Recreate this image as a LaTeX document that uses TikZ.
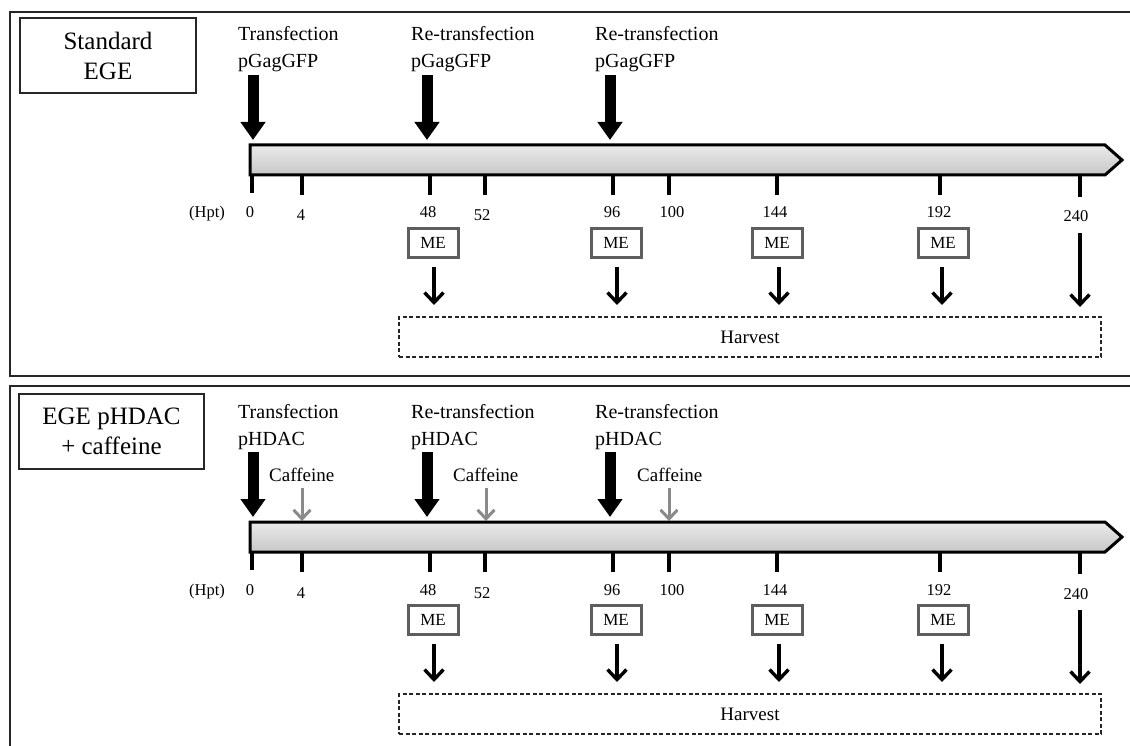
\documentclass[tikz,border=0pt]{standalone}
\usepackage{fontspec}
\setmainfont{Liberation Serif}
\usetikzlibrary{arrows.meta,calc}
\definecolor{megray}{HTML}{5E5E5E}
\definecolor{cafgray}{HTML}{8A8A8A}
\newcommand\drawtimeline[1]{%
  % bar
  \draw[barline] (250,145) -- (1105,145) -- (1122,160) -- (1105,175) -- (250,175) -- cycle;
  % ticks
  \foreach \tx/\tn/\ty/\lx/\ly in {252/0/193/250/218, 302/4/195/301/221, 430/48/195/428/218, 485/52/195/482/221, 613/96/195/612/218, 669/100/195/672/218, 777/144/195/775/218, 940/192/195/939/218, 1080/240/197/1076/222}{
    \coordinate (#1t\tn) at (\tx,175);
    \coordinate (#1e\tn) at (\tx,\ty);
    \draw[tickline] (#1t\tn) -- (#1e\tn);
    \node[ticklbl, anchor=base] (#1l\tn) at (\lx,\ly) {\tn};
  }
  \node[ticklbl, anchor=base] (#1hpt) at (207,218) {(Hpt)};
  % ME boxes
  \foreach \mx/\ax/\mn in {433/434/48, 616/617/96, 777/779/144, 943/942/192}{
    \node[mebox] (#1me\mn) at (\mx,243) {ME};
    \coordinate (#1ma\mn) at (\ax,267);
    \coordinate (#1mb\mn) at (\ax,305);
    \draw[mearrow] (#1ma\mn) -- (#1mb\mn);
  }
  \coordinate (#1ma240) at (1080,233);
  \coordinate (#1mb240) at (1080,307);
  \draw[mearrow] (#1ma240) -- (#1mb240);
  % harvest
  \node[harvest] (#1harvest) at (750,337) {Harvest};
  % big transfection arrows
  \foreach \bx/\bn in {253/a, 427/b, 610/c}{
    \coordinate (#1bs\bn) at (\bx,75);
    \coordinate (#1be\bn) at (\bx,140);
    \draw[bigarrow] (#1bs\bn) -- (#1be\bn);
  }
}
\begin{document}
\begin{tikzpicture}[x=1pt,y=-1pt,
  frame/.style={draw=black!85, line width=1.4pt},
  titlebox/.style={draw=black!85, line width=1.2pt, align=center, inner sep=0pt, font=\fontsize{25}{30}\selectfont},
  lbl/.style={anchor=base west, inner sep=0pt, font=\fontsize{20}{23}\selectfont},
  caflbl/.style={anchor=base west, inner sep=0pt, font=\fontsize{19}{22}\selectfont},
  ticklbl/.style={inner sep=0pt, font=\fontsize{16.5}{19}\selectfont},
  mebox/.style={draw=megray, line width=3pt, minimum width=50pt, minimum height=29pt, inner sep=0pt, font=\fontsize{17}{19}\selectfont},
  harvest/.style={draw=black!85, dash pattern=on 4pt off 2.5pt, line width=1.1pt, minimum width=702pt, minimum height=40pt, inner sep=0pt, font=\fontsize{19}{22}\selectfont},
  barline/.style={draw=black, line width=3pt, line join=miter, top color=black!8, bottom color=black!22},
  tickline/.style={line width=3.2pt},
  bigarrow/.style={line width=11pt, -{Triangle[length=18pt,width=24pt]}},
  mearrow/.style={line width=3.4pt, -{Straight Barb[length=10pt,width=19pt]}},
  cafarrow/.style={draw=cafgray, line width=3pt, -{Straight Barb[length=9pt,width=17pt]}},
  ]
\useasboundingbox (0,0) rectangle (1130,746);
\fill[white] (0,0) rectangle (1130,746);
\begin{scope}
  \clip (0,0) rectangle (1130,746);
  \draw[frame] (10,12) rectangle (1150,376);
  \draw[frame] (10,386) rectangle (1150,770);
\end{scope}

% ---------- top panel ----------
\node[titlebox, minimum width=176pt, minimum height=75pt] (Ttitle) at (108,55.5) {Standard\\EGE};
\node[lbl] (Tl1a) at (238,41) {Transfection};
\node[lbl] (Tl1b) at (238,68) {pGagGFP};
\node[lbl] (Tl2a) at (411,41) {Re-transfection};
\node[lbl] (Tl2b) at (411,68) {pGagGFP};
\node[lbl] (Tl3a) at (595,41) {Re-transfection};
\node[lbl] (Tl3b) at (595,68) {pGagGFP};
\drawtimeline{T}

% ---------- lower panel ----------
\node[titlebox, minimum width=185pt, minimum height=75pt] (Btitle) at (111.5,431.5) {EGE pHDAC\\+ caffeine};
\begin{scope}[yshift=-377pt]
\node[lbl] (Bl1a) at (238,41) {Transfection};
\node[lbl] (Bl1b) at (238,68) {pHDAC};
\node[lbl] (Bl2a) at (411,41) {Re-transfection};
\node[lbl] (Bl2b) at (411,68) {pHDAC};
\node[lbl] (Bl3a) at (595,41) {Re-transfection};
\node[lbl] (Bl3b) at (595,68) {pHDAC};
\foreach \cx/\ax/\cn in {269/302/a, 453/486/b, 637/669/c}{
  \node[caflbl] (Bcaf\cn) at (\cx,104) {Caffeine};
  \coordinate (Bcs\cn) at (\ax,111);
  \coordinate (Bce\cn) at (\ax,144);
  \draw[cafarrow] (Bcs\cn) -- (Bce\cn);
}
\drawtimeline{B}
\end{scope}
\end{tikzpicture}
\end{document}
